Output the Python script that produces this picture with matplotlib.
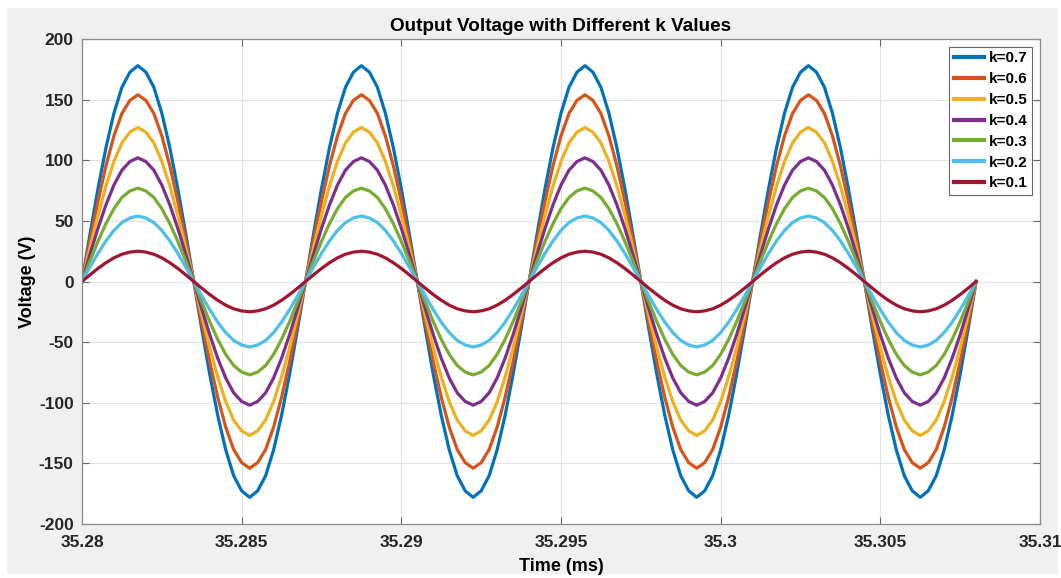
import numpy as np
import matplotlib
matplotlib.use("Agg")
import matplotlib.pyplot as plt
from matplotlib.patches import Rectangle

# k values and peak voltages
k_values = [0.7, 0.6, 0.5, 0.4, 0.3, 0.2, 0.1]
peak_volts = [178, 154, 127, 102, 77, 54, 25]
colors = ["#0072BD", "#D95319", "#EDB120", "#7E2F8E", "#77AC30", "#4DBEEE", "#A2142F"]

# one period of the waveform (28 samples), normalised to the peak
cycle_shape = [0.00, 0.22, 0.43, 0.62, 0.78, 0.90, 0.97, 1.00, 0.97, 0.90, 0.78, 0.62, 0.43, 0.22,
               0.00, -0.22, -0.43, -0.62, -0.78, -0.90, -0.97, -1.00, -0.97, -0.90, -0.78, -0.62, -0.43, -0.22]
n_cycles = 4
t_start = 35.28   # ms
t_step = 0.00025  # ms between samples

x_ticks = [35.28, 35.285, 35.29, 35.295, 35.3, 35.305, 35.31]
x_tick_labels = ["35.28", "35.285", "35.29", "35.295", "35.3", "35.305", "35.31"]
y_ticks = [-200, -150, -100, -50, 0, 50, 100, 150, 200]

shape = np.array(cycle_shape * n_cycles + [0.0])
t = t_start + t_step * np.arange(len(shape))

plt.rcParams["font.family"] = ["Liberation Sans", "DejaVu Sans"]
plt.rcParams["font.weight"] = "bold"
plt.rcParams["axes.unicode_minus"] = False

fig = plt.figure(figsize=(10.61, 5.78), dpi=100, facecolor="white")
fig.patches.append(Rectangle((7 / 1061, 4 / 578), 1051 / 1061, 566 / 578,
                             transform=fig.transFigure, facecolor="#f0f0f0",
                             edgecolor="none", zorder=-10))
ax = fig.add_axes([82 / 1061, 1 - 524 / 578, (1040 - 82) / 1061, (524 - 39) / 578])

for k, amp, c in zip(k_values, peak_volts, colors):
    ax.plot(t, amp * shape, color=c, lw=2.3, label=f"k={k}")

ax.set_xlim(35.28, 35.31)
ax.set_ylim(-200, 200)
ax.set_xticks(x_ticks)
ax.set_xticklabels(x_tick_labels)
ax.set_yticks(y_ticks)
ax.tick_params(direction="in", top=True, right=True, labelsize=12.5, colors="#666666",
               labelcolor="#262626", length=5, width=0.8)
ax.tick_params(axis="x", pad=8)
ax.tick_params(axis="y", pad=6)
ax.grid(True, color="#e3e3e3", lw=0.8)
ax.set_axisbelow(True)
for s in ax.spines.values():
    s.set_color("#8c8c8c")
    s.set_linewidth(0.9)

ax.set_title("Output Voltage with Different k Values", fontsize=13.6, fontweight="bold", pad=6)
ax.set_xlabel("Time (ms)", fontsize=13, fontweight="bold", labelpad=6)
ax.set_ylabel("Voltage (V)", fontsize=13, fontweight="bold", labelpad=2)

leg = ax.legend(loc="upper right", fontsize=11, frameon=True, fancybox=False,
                handlelength=2.0, handletextpad=0.3, labelspacing=0.45,
                borderpad=0.3, borderaxespad=0.5)
leg.get_frame().set_edgecolor("#404040")
leg.get_frame().set_linewidth(0.8)
for line in leg.get_lines():
    line.set_linewidth(3)

fig.savefig("out.png", dpi=100, facecolor=fig.get_facecolor())
